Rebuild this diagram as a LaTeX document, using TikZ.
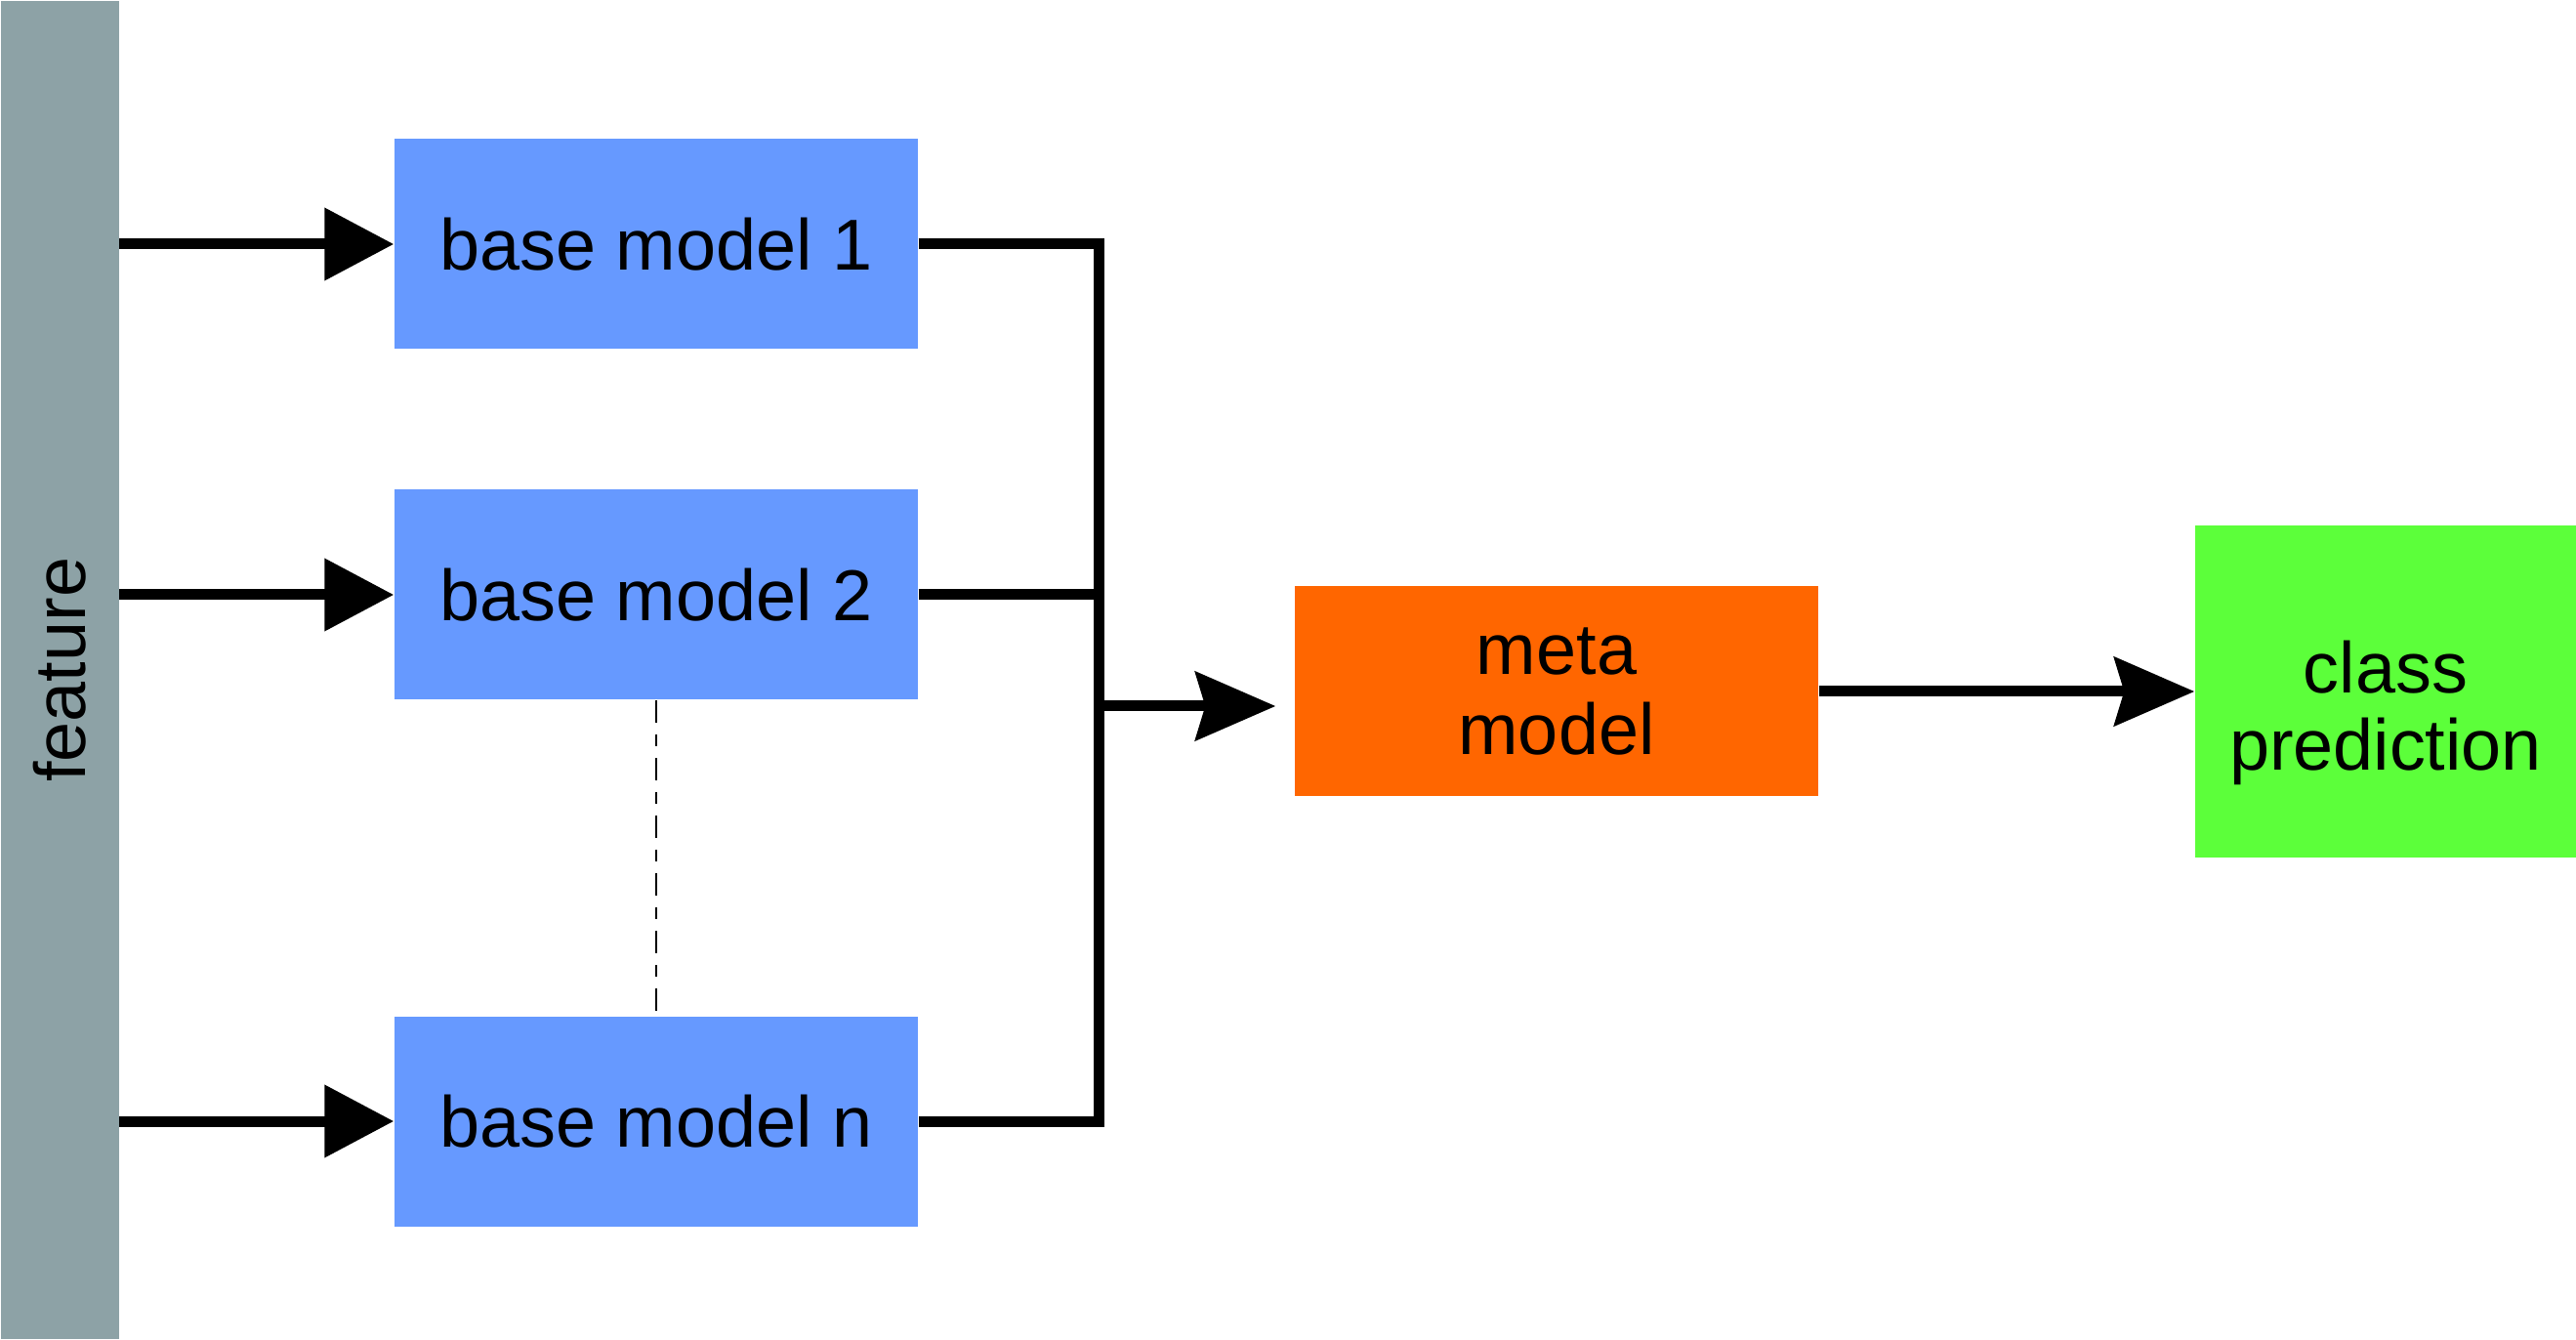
\documentclass[tikz,border=0pt]{standalone}
\usepackage{fontspec}
\setmainfont{Liberation Sans}
\usetikzlibrary{arrows.meta}

\definecolor{featuregray}{RGB}{141,162,166}
\definecolor{baseblue}{RGB}{102,153,255}
\definecolor{metaorange}{RGB}{255,102,0}
\definecolor{classgreen}{RGB}{92,255,58}

\begin{document}
\begin{tikzpicture}[
    every node/.style={font=\fontsize{21}{23.5}\selectfont},
    block/.style={
        minimum width=5.36cm,
        minimum height=2.15cm,
        inner sep=0pt,
        text=black,
        align=center,
        anchor=center,
    },
    link/.style={line width=0.11cm},
    feed/.style={link, -{Triangle[length=0.71cm, width=0.72cm]}},
    pass/.style={link, -{Stealth[length=0.82cm, width=0.70cm, inset=0.10cm]}},
]

\useasboundingbox (0,0) rectangle (26.38,-13.72);

% Column positions
\def\xbase{6.72}
\def\xjoin{11.25}
\def\xmeta{15.94}
\def\xclass{24.43}

% Y positions (top to bottom)
\def\yA{-2.50}
\def\yB{-6.09}
\def\yC{-11.48}
\def\yM{-7.08}
\def\yin{-7.23}

% --- Feature bar ---
\node[fill=featuregray, minimum width=1.21cm, minimum height=13.70cm,
    inner sep=0pt, anchor=north west] (feat) at (0,0) {};
\node[rotate=90] (featlabel) at (feat.center) {feature};

% --- Base models ---
\node[block, fill=baseblue] (b1) at (\xbase, \yA) {base model 1};
\node[block, fill=baseblue] (b2) at (\xbase, \yB) {base model 2};
\node[block, fill=baseblue] (bn) at (\xbase, \yC) {base model n};

\draw[feed] (feat.east |- b1) -- (b1.west);
\draw[feed] (feat.east |- b2) -- (b2.west);
\draw[feed] (feat.east |- bn) -- (bn.west);

\draw[line width=0.02cm, dash pattern=on 0.23cm off 0.12cm on 0.12cm off 0.12cm]
    (b2.south) -- (bn.north);

% --- Collector ---
\coordinate (jtop) at (\xjoin, \yA);
\coordinate (jmid) at (\xjoin, \yB);
\coordinate (jbot) at (\xjoin, \yC);
\coordinate (jout) at (\xjoin, \yin);

\draw[link] (b1.east) -- (jtop) -- (jbot) -- (bn.east);
\draw[link] (b2.east) -- (jmid);

% --- Meta model ---
\node[block, fill=metaorange] (meta) at (\xmeta, \yM) {meta\\model};
\draw[pass, shorten >=0.19cm] (jout) -- (jout -| meta.west);

% --- Class prediction ---
\node[block, fill=classgreen, minimum width=3.90cm, minimum height=3.40cm]
    (cls) at (\xclass, \yM) {};
\node[align=center, font=\fontsize{21}{22.5}\selectfont] (clslabel)
    at ([yshift=-0.22cm]cls.center) {class\\prediction};
\draw[pass] (meta.east) -- (cls.west);

\end{tikzpicture}
\end{document}
